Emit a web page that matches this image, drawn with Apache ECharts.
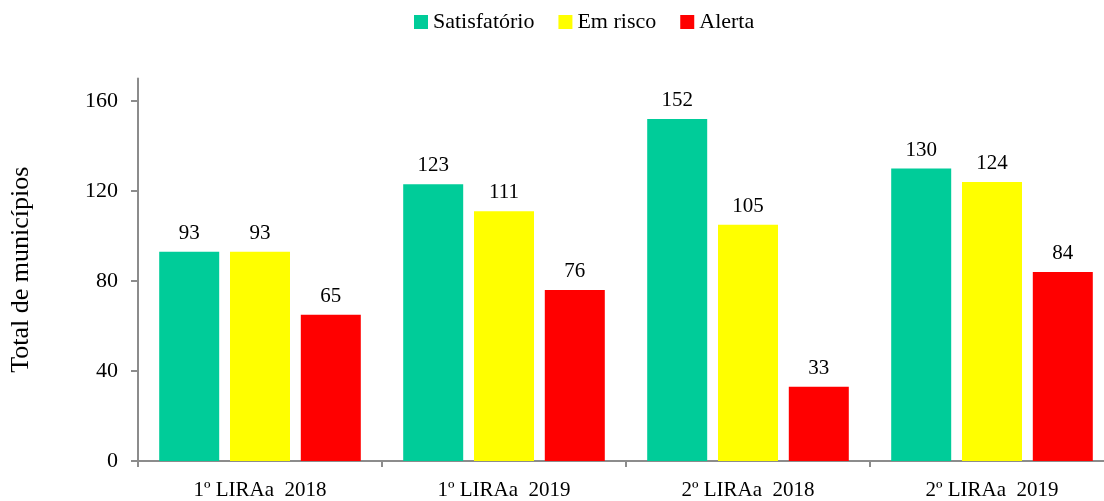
<!DOCTYPE html>
<html>
<head>
<meta charset="utf-8">
<script src="https://cdn.jsdelivr.net/npm/echarts@6/dist/echarts.min.js"></script>
<style>html,body{margin:0;padding:0;background:#fff}#c{width:1104px;height:501px}</style>
</head>
<body>
<div id="c"></div>
<script>
const categories = ['1\u00ba LIRAa  2018', '1\u00ba LIRAa  2019', '2\u00ba LIRAa  2018', '2\u00ba LIRAa  2019'];
const satisfatorio = [93, 123, 152, 130];
const emRisco = [93, 111, 105, 124];
const alerta = [65, 76, 33, 84];
const yTicks = [0, 40, 80, 120, 160];
const seriesNames = ['Satisfat\u00f3rio', 'Em risco', 'Alerta'];
const colors = ['#00CC99', '#FFFF00', '#FF0000'];

const font = 'Liberation Serif';
const chart = echarts.init(document.getElementById('c'));
const mk = (name, data, color) => ({
  name, type: 'bar', data, barWidth: 60, barGap: '18%',
  itemStyle: { color },
  label: { show: true, position: 'top', distance: 8, color: '#000', fontFamily: font, fontSize: 21 }
});
chart.setOption({
  animation: false,
  textStyle: { fontFamily: font },
  legend: {
    left: 409, top: 6, itemWidth: 14, itemHeight: 14, itemGap: 24,
    icon: 'rect',
    textStyle: { fontFamily: font, fontSize: 22, color: '#000' },
    data: seriesNames
  },
  grid: { left: 138, top: 78.5, right: -10, bottom: 40, outerBoundsMode: 'none' },
  xAxis: {
    type: 'category', data: categories,
    axisLine: { lineStyle: { color: '#8c8c8c', width: 2 } },
    axisTick: { show: true, length: 6, alignWithLabel: false, lineStyle: { color: '#8c8c8c', width: 2 } },
    axisLabel: { margin: 19, color: '#000', fontFamily: font, fontSize: 21 }
  },
  yAxis: {
    type: 'value', min: 0, max: 170,
    name: 'Total de munic\u00edpios', nameLocation: 'middle', nameGap: 104, nameRotate: 90,
    nameTextStyle: { fontFamily: font, fontSize: 26, color: '#000' },
    splitLine: { show: false },
    axisLine: { show: true, lineStyle: { color: '#8c8c8c', width: 2 } },
    axisTick: { show: true, length: 7, customValues: yTicks, lineStyle: { color: '#8c8c8c', width: 2 } },
    axisLabel: { customValues: yTicks, margin: 20, color: '#000', fontFamily: font, fontSize: 22 }
  },
  series: [
    mk(seriesNames[0], satisfatorio, colors[0]),
    mk(seriesNames[1], emRisco, colors[1]),
    mk(seriesNames[2], alerta, colors[2])
  ]
});
</script>
</body>
</html>
